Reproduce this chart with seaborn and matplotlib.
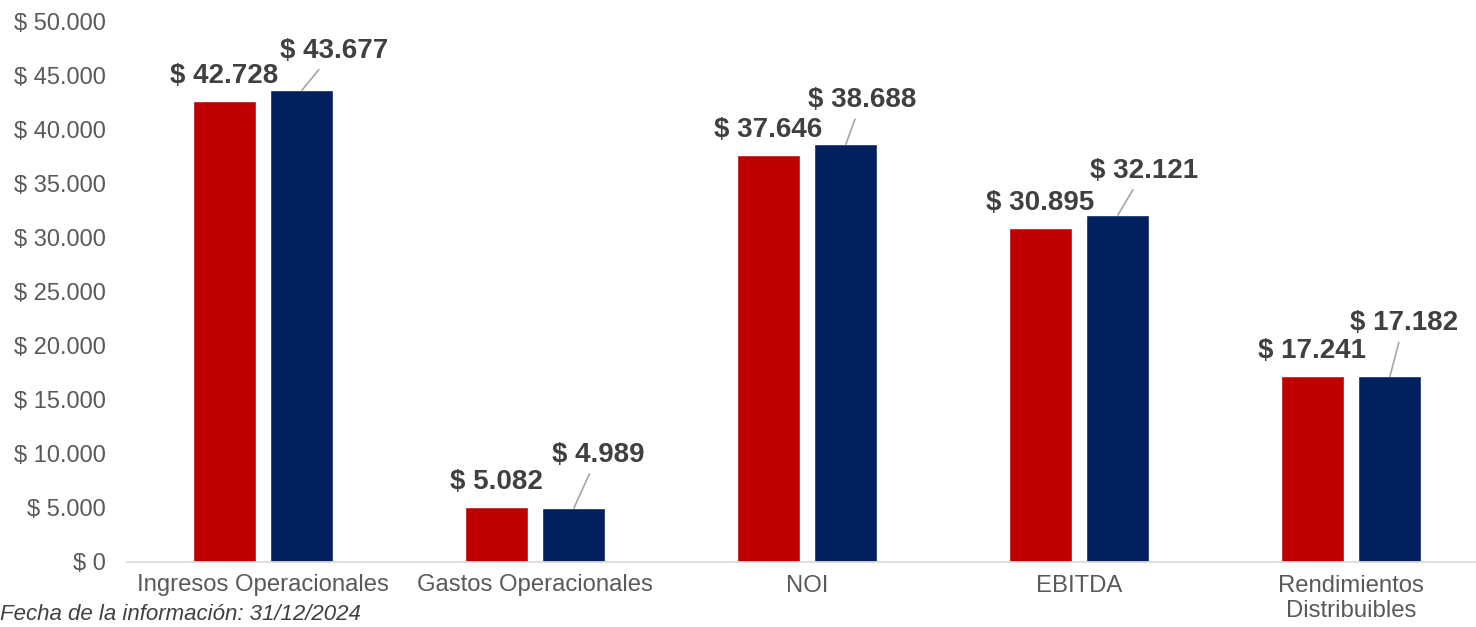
import matplotlib
matplotlib.use("Agg")
import matplotlib.pyplot as plt
import seaborn as sns
import pandas as pd

categories = ["Ingresos Operacionales", "Gastos Operacionales", "NOI", "EBITDA",
              "Rendimientos\nDistribuibles"]
series_names = ["Periodo anterior", "Periodo actual"]
values_prev = [42728, 5082, 37646, 30895, 17241]
values_curr = [43677, 4989, 38688, 32121, 17182]
y_ticks = [0, 5000, 10000, 15000, 20000, 25000, 30000, 35000, 40000, 45000, 50000]
footnote = "Fecha de la información: 31/12/2024"

def fmt(v):
    return "$ " + f"{v:,.0f}".replace(",", ".")

df = pd.DataFrame({
    "cat": categories * 2,
    "serie": [series_names[0]] * 5 + [series_names[1]] * 5,
    "valor": values_prev + values_curr,
})

sns.set_theme(style="white")
plt.rcParams["font.family"] = ["Liberation Sans", "DejaVu Sans"]

W, H = 1476, 627
fig = plt.figure(figsize=(W / 100, H / 100), dpi=100)
ax = fig.add_axes([127 / W, (H - 562) / H, 1360 / W, 540 / H])

sns.barplot(data=df, x="cat", y="valor", hue="serie", order=categories,
            hue_order=series_names, palette=["#C00000", "#002060"],
            width=0.572, gap=0.19, ax=ax, legend=False, saturation=1)

ax.set_xlim(-0.5, 4.5)
ax.set_ylim(0, 50000)
ax.set_yticks(y_ticks)
ax.set_yticklabels([fmt(v) for v in y_ticks])
ax.set_xlabel("")
ax.set_ylabel("")
for s in ["top", "right", "left"]:
    ax.spines[s].set_visible(False)
ax.spines["bottom"].set_color("#D9D9D9")
ax.spines["bottom"].set_linewidth(1.2)
ax.tick_params(axis="y", length=0, pad=15, labelsize=17, labelcolor="#595959")
ax.tick_params(axis="x", length=0, pad=9, labelsize=17.2, labelcolor="#595959")
for lab in ax.get_xticklabels():
    lab.set_linespacing(1.2)

# Data labels: red labels directly above bars; blue labels with leader lines
bars_prev = ax.containers[0]
bars_curr = ax.containers[1]
px = 72 / 100  # pixel -> points
blue_offsets = [(32, 39), (24, 53), (16, 44), (26, 44), (14, 53)]
for b, v in zip(bars_prev, values_prev):
    x = b.get_x() + b.get_width() / 2
    ax.annotate(fmt(v), (x, b.get_height()), xytext=(0, 25 * px),
                textcoords="offset points", ha="center", va="center",
                fontsize=20, fontweight="bold", color="#404040")
for b, v, (dx, dy) in zip(bars_curr, values_curr, blue_offsets):
    x = b.get_x() + b.get_width() / 2
    ax.annotate(fmt(v), (x, b.get_height()), xytext=(dx * px, dy * px),
                textcoords="offset points", ha="center", va="center",
                fontsize=20, fontweight="bold", color="#404040",
                arrowprops=dict(arrowstyle="-", color="#A6A6A6", lw=1.2,
                                shrinkA=2, shrinkB=0))

fig.text(0.0, 1 - 625 / H, footnote, ha="left", va="bottom", fontsize=16,
         style="italic", color="#404040")

fig.savefig("out.png", dpi=100)
